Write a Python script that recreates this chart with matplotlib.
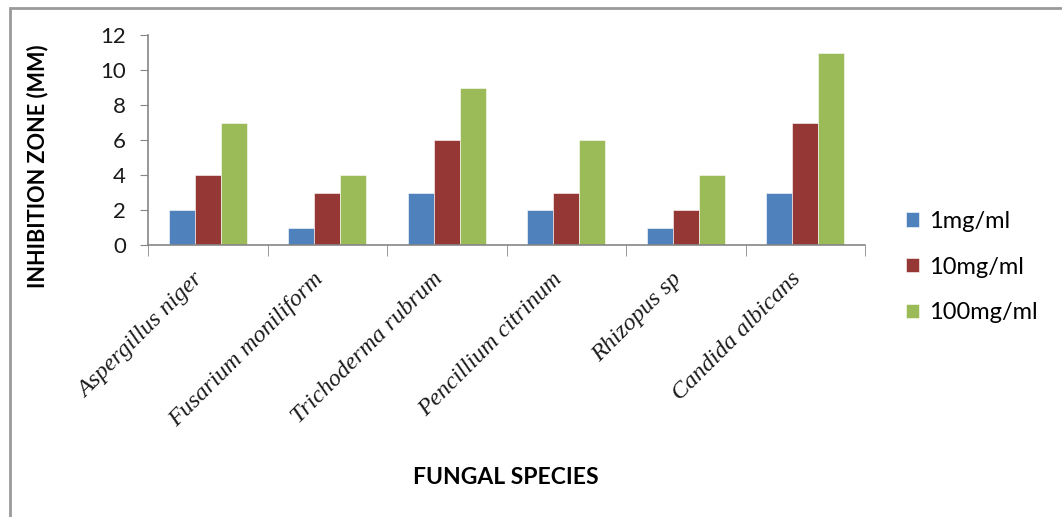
import matplotlib
matplotlib.use("Agg")
import matplotlib.pyplot as plt
import numpy as np
from matplotlib.patches import Rectangle

species = ["Aspergillus niger", "Fusarium moniliform", "Trichoderma rubrum",
           "Pencillium citrinum", "Rhizopus sp", "Candida albicans"]
series_names = ["1mg/ml", "10mg/ml", "100mg/ml"]
vals_1 = [2, 1, 3, 2, 1, 3]
vals_10 = [4, 3, 6, 3, 2, 7]
vals_100 = [7, 4, 9, 6, 4, 11]
yticks = [0, 2, 4, 6, 8, 10, 12]

colors = ["#4F81BD", "#953735", "#9BBB59"]
W, H = 1062, 517
fig = plt.figure(figsize=(W / 100, H / 100), dpi=100)
fig.patches.append(Rectangle((10 / W, -0.1), 1.2, 1 - 8 / H + 0.1, transform=fig.transFigure,
                             fill=False, edgecolor="#9a9a9a", linewidth=2))

ax = fig.add_axes([148 / W, 1 - 245 / H, (865 - 148) / W, (245 - 35) / H])
x = np.arange(len(species))
bw = 26 / 119.5
for i, (vals, name) in enumerate(zip([vals_1, vals_10, vals_100], series_names)):
    ax.bar(x + (i - 1) * bw, vals, width=bw, color=colors[i], label=name,
           edgecolor="white", linewidth=0.4)

ax.set_xlim(-0.5, len(species) - 0.5)
ax.set_ylim(0, 12)
ax.set_yticks(yticks)
ax.set_yticklabels([str(t) for t in yticks], fontsize=16, family="Lato", color="#1a1a1a")
ax.tick_params(axis="y", direction="out", length=6, color="#868686", pad=10)

ax.set_xticks(x)
ax.set_xticklabels(species, rotation=45, ha="right", va="top", rotation_mode="default",
                   fontsize=17.5, family="Liberation Serif", style="italic", color="#1a1a1a")
ax.tick_params(axis="x", length=0, pad=17)
ax.set_xticks(np.arange(-0.5, len(species)), minor=True)
ax.tick_params(axis="x", which="minor", direction="out", length=8, color="#868686")

for s in ["top", "right"]:
    ax.spines[s].set_visible(False)
for s in ["left", "bottom"]:
    ax.spines[s].set_color("#868686")
    ax.spines[s].set_linewidth(1.2)

fig.text(38 / W, 1 - 166 / H, "INHIBITION ZONE (MM)", rotation=90, ha="center", va="center",
         fontsize=15.6, fontweight="bold", family="Lato", color="black")
fig.text(506 / W, 1 - 477 / H, "FUNGAL SPECIES", ha="center", va="center",
         fontsize=16.5, fontweight="bold", family="Lato", color="black")

leg = fig.legend(loc="upper left", bbox_to_anchor=(894 / W, 1 - 199 / H), frameon=False,
                 prop={"family": "Lato", "size": 17}, handlelength=0.55, handleheight=0.55,
                 handletextpad=0.45, labelspacing=1.05, borderpad=0)

fig.savefig("out.png", dpi=100)
